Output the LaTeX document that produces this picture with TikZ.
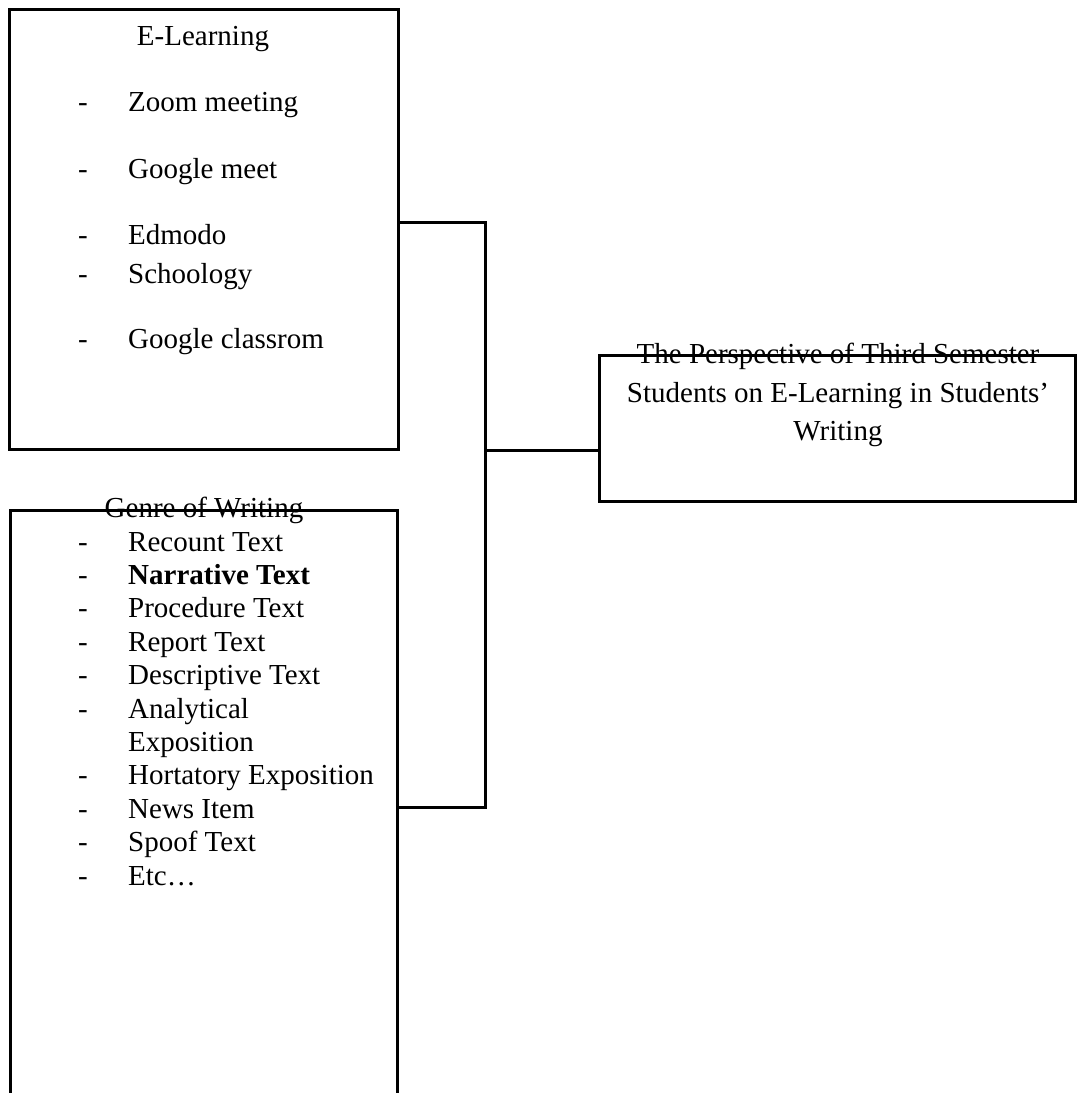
\documentclass[tikz,border=0pt]{standalone}
\usepackage{fontspec}
\setmainfont{Liberation Serif}
\usepackage{tikz}

\tikzset{
frame/.style={draw,line width=3pt,inner sep=0pt,outer sep=0pt},
entry/.style={anchor=base west,inner sep=0pt},
heading/.style={anchor=base,inner sep=0pt},
link/.style={line width=3pt},
}
% one line of a list: y, name, text
\newcommand{\drawListItem}[3]{
\node [heading] (#2Dash) at (83,#1) {-};
\node [entry] (#2) at (128,#1) {#3};
}

\begin{document}
\begin{tikzpicture}[x=1pt,y=-1pt,font=\fontsize{29}{38}\selectfont]
\useasboundingbox (0,0) rectangle (1077,1093);
\clip (0,0) rectangle (1077,1093);
\node [frame,minimum width=389pt,minimum height=440pt] (elearn) at (203.5,229) {};
\node [frame,minimum width=387pt,minimum height=640pt] (genre) at (203.5,830) {};
\node [frame,minimum width=476pt,minimum height=146pt] (persp) at (837,428) {};
\node [heading] (elearnTitle) at (203,45) {E-Learning};
\drawListItem{111}{zoom}{Zoom meeting}
\drawListItem{178}{meet}{Google meet}
\drawListItem{244}{edmodo}{Edmodo}
\drawListItem{283}{schoology}{Schoology}
\drawListItem{348}{classroom}{Google classrom}
\node [heading] (genreTitle) at (204,517) {Genre of Writing};
\drawListItem{551}{recount}{Recount Text}
\drawListItem{584.4}{narrative}{\textbf{Narrative Text}}
\drawListItem{617.8}{procedure}{Procedure Text}
\drawListItem{651.2}{report}{Report Text}
\drawListItem{684.6}{descriptive}{Descriptive Text}
\drawListItem{718}{analytical}{Analytical}
\node [entry] (analyticalCont) at (128,751.4) {Exposition};
\drawListItem{784.8}{hortatory}{Hortatory Exposition}
\drawListItem{818.2}{news}{News Item}
\drawListItem{851.6}{spoof}{Spoof Text}
\drawListItem{885}{etc}{Etc…}
\node [heading] (perspLineA) at (838,363) {The Perspective of Third Semester};
\node [heading] (perspLineB) at (838,402) {Students on E-Learning in Students’};
\node [heading] (perspLineC) at (838,440) {Writing};
\coordinate (jointTop) at (485,222);
\coordinate (jointMid) at (485,450);
\coordinate (jointBot) at (485,807);
\draw [link] (elearn.east |- jointTop) -- (jointTop) -- (jointBot) -- (genre.east |- jointBot);
\draw [link] (jointMid) -- (persp.west |- jointMid);
\end{tikzpicture}
\end{document}
